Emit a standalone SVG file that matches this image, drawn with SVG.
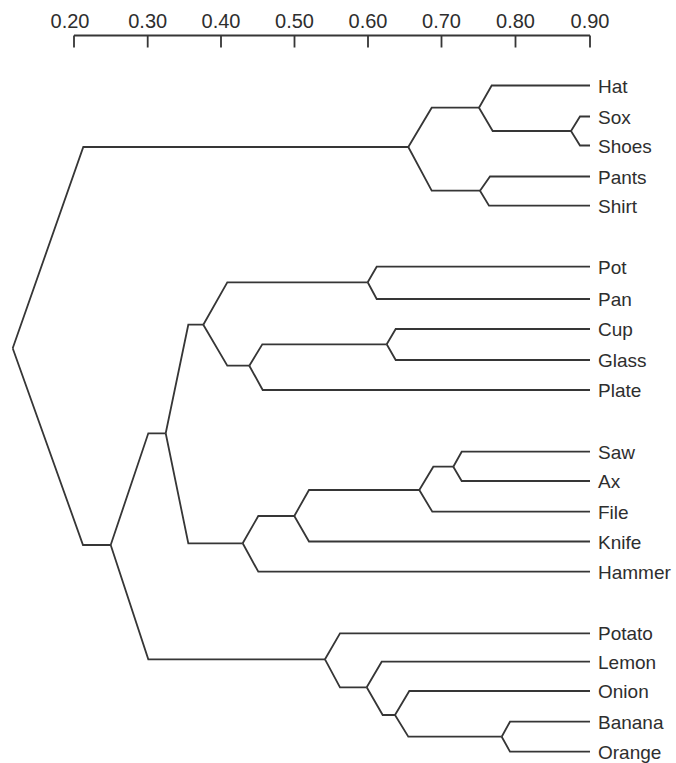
<svg xmlns="http://www.w3.org/2000/svg" width="676" height="763" viewBox="0 0 676 763">
<style>
.ln{fill:none;stroke:#363636;stroke-width:1.8;stroke-linejoin:miter;stroke-linecap:butt}
.lbl{font-family:"Liberation Sans",Arial,sans-serif;font-size:19px;fill:#2e2e2e}
.ax{font-family:"Liberation Sans",Arial,sans-serif;font-size:20px;fill:#2e2e2e;text-anchor:middle}
</style>
<rect width="676" height="763" fill="#ffffff"/>
<g id="axis">
<path class="ln" d="M74,35.5 H590 M74,35.5 V47.5 M147.7,35.5 V47.5 M221,35.5 V47.5 M294.5,35.5 V47.5 M368,35.5 V47.5 M441.5,35.5 V47.5 M515.5,35.5 V47.5 M590,35.5 V47.5"/>
<text class="ax" x="70" y="27.5">0.20</text>
<text class="ax" x="147.7" y="27.5">0.30</text>
<text class="ax" x="221" y="27.5">0.40</text>
<text class="ax" x="294.5" y="27.5">0.50</text>
<text class="ax" x="368" y="27.5">0.60</text>
<text class="ax" x="441.5" y="27.5">0.70</text>
<text class="ax" x="515.5" y="27.5">0.80</text>
<text class="ax" x="590" y="27.5">0.90</text>
</g>
<g id="connectors">
<path class="ln" d="M12.7,348.3 L83.3,147 L408.3,147"/>
<path class="ln" d="M12.7,348.3 L83,545 L110.7,545"/>
<path class="ln" d="M110.7,545 L148.3,433.3 L165.7,433.3"/>
<path class="ln" d="M110.7,545 L148.3,659.3 L325,659.3"/>
<path class="ln" d="M408.3,147 L431.7,107.7 L479,107.7"/>
<path class="ln" d="M408.3,147 L431.7,190.7 L480,190.7"/>
<path class="ln" d="M479,107.7 L491.7,85.5 L590,85.5"/>
<path class="ln" d="M479,107.7 L492.7,131 L571,131"/>
<path class="ln" d="M571,131 L580,116.5 L590,116.5"/>
<path class="ln" d="M571,131 L580,145.5 L590,145.5"/>
<path class="ln" d="M480,190.7 L490,176.5 L590,176.5"/>
<path class="ln" d="M480,190.7 L489,205.7 L590,205.7"/>
<path class="ln" d="M165.7,433.3 L188.3,324.7 L203.3,324.7"/>
<path class="ln" d="M165.7,433.3 L188.3,543.3 L242.7,543.3"/>
<path class="ln" d="M203.3,324.7 L227.3,282.3 L367.7,282.3"/>
<path class="ln" d="M203.3,324.7 L227.3,365.7 L249.3,365.7"/>
<path class="ln" d="M367.7,282.3 L376.7,266.7 L590,266.7"/>
<path class="ln" d="M367.7,282.3 L376.7,299 L590,299"/>
<path class="ln" d="M249.3,365.7 L262.3,344.3 L386.7,344.3"/>
<path class="ln" d="M249.3,365.7 L262.7,390 L590,390"/>
<path class="ln" d="M386.7,344.3 L395.7,329 L590,329"/>
<path class="ln" d="M386.7,344.3 L395.7,360 L590,360"/>
<path class="ln" d="M242.7,543.3 L258.3,516 L294.3,516"/>
<path class="ln" d="M242.7,543.3 L258.3,571.7 L590,571.7"/>
<path class="ln" d="M294.3,516 L309,490 L419.3,490"/>
<path class="ln" d="M294.3,516 L309,541.5 L590,541.5"/>
<path class="ln" d="M419.3,490 L433.3,466.7 L453.3,466.7"/>
<path class="ln" d="M419.3,490 L432.3,511.7 L590,511.7"/>
<path class="ln" d="M453.3,466.7 L461.7,451.7 L590,451.7"/>
<path class="ln" d="M453.3,466.7 L461.7,481 L590,481"/>
<path class="ln" d="M325,659.3 L340,633.3 L590,633.3"/>
<path class="ln" d="M325,659.3 L340,687.3 L366.7,687.3"/>
<path class="ln" d="M366.7,687.3 L381.7,661.7 L590,661.7"/>
<path class="ln" d="M366.7,687.3 L382.7,715 L395,715"/>
<path class="ln" d="M395,715 L409.3,691 L590,691"/>
<path class="ln" d="M395,715 L408.3,736.7 L501.7,736.7"/>
<path class="ln" d="M501.7,736.7 L510,721.7 L590,721.7"/>
<path class="ln" d="M501.7,736.7 L510,751.7 L590,751.7"/>
</g>
<g id="node-hat"><text class="lbl" x="598" y="92.5">Hat</text></g>
<g id="node-sox"><text class="lbl" x="598" y="123.5">Sox</text></g>
<g id="node-shoes"><text class="lbl" x="598" y="152.5">Shoes</text></g>
<g id="node-pants"><text class="lbl" x="598" y="183.5">Pants</text></g>
<g id="node-shirt"><text class="lbl" x="598" y="212.7">Shirt</text></g>
<g id="node-pot"><text class="lbl" x="598" y="273.7">Pot</text></g>
<g id="node-pan"><text class="lbl" x="598" y="306">Pan</text></g>
<g id="node-cup"><text class="lbl" x="598" y="336">Cup</text></g>
<g id="node-glass"><text class="lbl" x="598" y="367">Glass</text></g>
<g id="node-plate"><text class="lbl" x="598" y="397">Plate</text></g>
<g id="node-saw"><text class="lbl" x="598" y="458.7">Saw</text></g>
<g id="node-ax"><text class="lbl" x="598" y="488">Ax</text></g>
<g id="node-file"><text class="lbl" x="598" y="518.7">File</text></g>
<g id="node-knife"><text class="lbl" x="598" y="548.5">Knife</text></g>
<g id="node-hammer"><text class="lbl" x="598" y="578.7">Hammer</text></g>
<g id="node-potato"><text class="lbl" x="598" y="640.3">Potato</text></g>
<g id="node-lemon"><text class="lbl" x="598" y="668.7">Lemon</text></g>
<g id="node-onion"><text class="lbl" x="598" y="698">Onion</text></g>
<g id="node-banana"><text class="lbl" x="598" y="728.7">Banana</text></g>
<g id="node-orange"><text class="lbl" x="598" y="758.7">Orange</text></g>
</svg>
